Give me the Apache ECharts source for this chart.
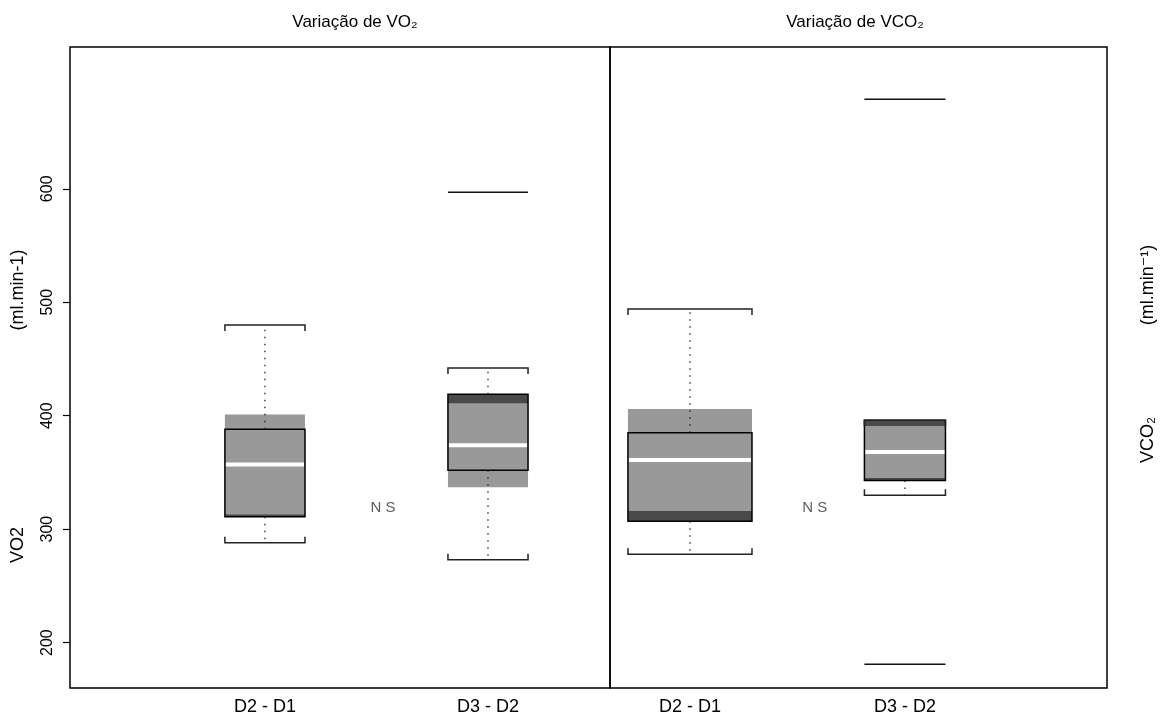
<!DOCTYPE html>
<html>
<head>
<meta charset="utf-8">
<script src="https://cdn.jsdelivr.net/npm/echarts@6/dist/echarts.min.js"></script>
<style>
  html, body { margin: 0; padding: 0; background: #fff; }
  #chart { width: 1170px; height: 724px; }
</style>
</head>
<body>
<div id="chart"></div>
<script>
// ---------------- data ----------------
const categories = ['D2 - D1', 'D3 - D2'];
const panelTitles = ['Variação de VO₂', 'Variação de VCO₂'];
const yTicks = [200, 300, 400, 500, 600];
// [lower whisker, Q1, median, Q3, upper whisker]
const vo2Stats  = [[288, 311, 357, 388, 480], [273, 352, 374, 419, 442]];
const vco2Stats = [[278, 307, 361, 385, 494], [330, 343, 368, 396, 396]];
// notch limits [low, high]
const vo2Notch  = [[313, 401], [337, 411]];
const vco2Notch = [[316, 406], [345, 391]];
// outliers per category
const vo2Outliers  = [[], [597]];
const vco2Outliers = [[], [679, 181]];
const nsLabel = 'N S';
const nsValue = 319;

// ---------------- layout (not data) ----------------
const FONT = '"Liberation Sans", Arial, "DejaVu Sans", sans-serif';
const panelXRange = [[0.126, 2.547], [0.628, 2.940]];
const boxWidths = [[0.359, 0.359], [0.577, 0.377]];
const nsPos = [1.529, 1.581];
const GREY = '#999999', DARK = '#4a4a4a';

function buildBoxData(stats, notch) {
  return stats.map((s, i) => [i + 1, s[0], s[1], s[2], s[3], s[4], notch[i][0], notch[i][1]]);
}
function buildOutlierData(outs) {
  const arr = [];
  outs.forEach((list, i) => list.forEach(v => arr.push([i + 1, v])));
  return arr;
}

function makeBoxRender(panel) {
  return function (params, api) {
    const pos = api.value(0);
    const wL = api.value(1), q1 = api.value(2), med = api.value(3), q3 = api.value(4), wH = api.value(5);
    const nL = api.value(6), nH = api.value(7);
    const idx = Math.round(pos) - 1;
    const half = api.size([boxWidths[panel][idx], 0])[0] / 2;
    const cx = api.coord([pos, med])[0];
    const y = v => api.coord([pos, v])[1];
    const xl = cx - half, xr = cx + half;
    const children = [];
    const gTop = y(Math.max(q3, nH)), gBot = y(Math.min(q1, nL));
    children.push({ type: 'rect', shape: { x: xl, y: gTop, width: xr - xl, height: gBot - gTop }, style: { fill: GREY } });
    if (nL > q1) {
      children.push({ type: 'rect', shape: { x: xl, y: y(nL), width: xr - xl, height: y(q1) - y(nL) }, style: { fill: DARK } });
    }
    if (nH < q3) {
      children.push({ type: 'rect', shape: { x: xl, y: y(q3), width: xr - xl, height: y(nH) - y(q3) }, style: { fill: DARK } });
    }
    children.push({ type: 'rect', shape: { x: xl, y: y(q3), width: xr - xl, height: y(q1) - y(q3) }, style: { fill: null, stroke: '#000', lineWidth: 1.5 } });
    children.push({ type: 'line', shape: { x1: xl + 1, y1: y(med), x2: xr - 1, y2: y(med) }, style: { stroke: '#fff', lineWidth: 4 } });
    // whiskers (dotted)
    if (wH > q3) {
      children.push({ type: 'line', shape: { x1: cx, y1: y(q3), x2: cx, y2: y(wH) }, style: { stroke: '#111', lineWidth: 1.2, lineDash: [1.5, 5.5] } });
    }
    if (wL < q1) {
      children.push({ type: 'line', shape: { x1: cx, y1: y(q1), x2: cx, y2: y(wL) }, style: { stroke: '#111', lineWidth: 1.2, lineDash: [1.5, 5.5] } });
    }
    // staples
    const tick = 6;
    children.push({ type: 'polyline', shape: { points: [[xl, y(wH) + tick], [xl, y(wH)], [xr, y(wH)], [xr, y(wH) + tick]] }, style: { stroke: '#222', lineWidth: 1.5, fill: null } });
    children.push({ type: 'polyline', shape: { points: [[xl, y(wL) - tick], [xl, y(wL)], [xr, y(wL)], [xr, y(wL) - tick]] }, style: { stroke: '#222', lineWidth: 1.5, fill: null } });
    return { type: 'group', children };
  };
}
function makeOutlierRender(panel) {
  return function (params, api) {
    const pos = api.value(0), v = api.value(1);
    const idx = Math.round(pos) - 1;
    const half = api.size([boxWidths[panel][idx], 0])[0] / 2;
    const p = api.coord([pos, v]);
    return { type: 'line', shape: { x1: p[0] - half, y1: p[1], x2: p[0] + half, y2: p[1] }, style: { stroke: '#111', lineWidth: 1.5 } };
  };
}

const chart = echarts.init(document.getElementById('chart'), null, { renderer: 'canvas' });

const yAxisBase = {
  type: 'value', min: 160, max: 725, splitLine: { show: false }, axisLine: { show: false }
};

const option = {
  backgroundColor: '#fff',
  animation: false,
  grid: [
    { left: 70, top: 47, width: 540, height: 641, show: true, borderColor: '#000', borderWidth: 1.5 },
    { left: 610, top: 47, width: 497, height: 641, show: true, borderColor: '#000', borderWidth: 1.5 }
  ],
  xAxis: [0, 1].map(p => ({
    type: 'value', gridIndex: p, min: panelXRange[p][0], max: panelXRange[p][1],
    splitLine: { show: false }, axisLine: { show: false }, axisTick: { show: false },
    axisLabel: {
      customValues: [1, 2], formatter: v => categories[Math.round(v) - 1],
      fontFamily: FONT, fontSize: 18, color: '#000', margin: 10
    }
  })),
  yAxis: [
    Object.assign({}, yAxisBase, {
      gridIndex: 0,
      axisTick: { show: true, customValues: yTicks, length: 7, lineStyle: { color: '#000', width: 1.2 } },
      axisLabel: { customValues: yTicks, rotate: 90, fontFamily: FONT, fontSize: 16, color: '#000', margin: 14 }
    }),
    Object.assign({}, yAxisBase, { gridIndex: 1, show: false })
  ],
  series: [
    { type: 'custom', xAxisIndex: 0, yAxisIndex: 0, renderItem: makeBoxRender(0), encode: { x: 0, y: [1, 5] }, data: buildBoxData(vo2Stats, vo2Notch), clip: false },
    { type: 'custom', xAxisIndex: 1, yAxisIndex: 1, renderItem: makeBoxRender(1), encode: { x: 0, y: [1, 5] }, data: buildBoxData(vco2Stats, vco2Notch), clip: false },
    { type: 'custom', xAxisIndex: 0, yAxisIndex: 0, renderItem: makeOutlierRender(0), encode: { x: 0, y: 1 }, data: buildOutlierData(vo2Outliers) },
    { type: 'custom', xAxisIndex: 1, yAxisIndex: 1, renderItem: makeOutlierRender(1), encode: { x: 0, y: 1 }, data: buildOutlierData(vco2Outliers) },
    {
      type: 'scatter', xAxisIndex: 0, yAxisIndex: 0, symbolSize: 0, data: [[nsPos[0], nsValue]],
      label: { show: true, position: 'inside', formatter: nsLabel, fontFamily: FONT, fontSize: 15, color: '#333' }
    },
    {
      type: 'scatter', xAxisIndex: 1, yAxisIndex: 1, symbolSize: 0, data: [[nsPos[1], nsValue]],
      label: { show: true, position: 'inside', formatter: nsLabel, fontFamily: FONT, fontSize: 15, color: '#333' }
    }
  ],
  graphic: [
    { type: 'text', x: 355, y: 22, style: { text: panelTitles[0], font: '17px ' + FONT, fill: '#000', align: 'center', verticalAlign: 'middle' } },
    { type: 'text', x: 855, y: 22, style: { text: panelTitles[1], font: '17px ' + FONT, fill: '#000', align: 'center', verticalAlign: 'middle' } },
    { type: 'text', x: 18, y: 545, rotation: Math.PI / 2, style: { text: 'VO2', font: '18px ' + FONT, fill: '#000', align: 'center', verticalAlign: 'middle' } },
    { type: 'text', x: 18, y: 290, rotation: Math.PI / 2, style: { text: '(ml.min-1)', font: '18px ' + FONT, fill: '#000', align: 'center', verticalAlign: 'middle' } },
    { type: 'text', x: 1148, y: 285, rotation: Math.PI / 2, style: { text: '(ml.min⁻¹)', font: '18px ' + FONT, fill: '#000', align: 'center', verticalAlign: 'middle' } },
    { type: 'text', x: 1148, y: 440, rotation: Math.PI / 2, style: { text: 'VCO₂', font: '18px ' + FONT, fill: '#000', align: 'center', verticalAlign: 'middle' } }
  ]
};
chart.setOption(option);
</script>
</body>
</html>
